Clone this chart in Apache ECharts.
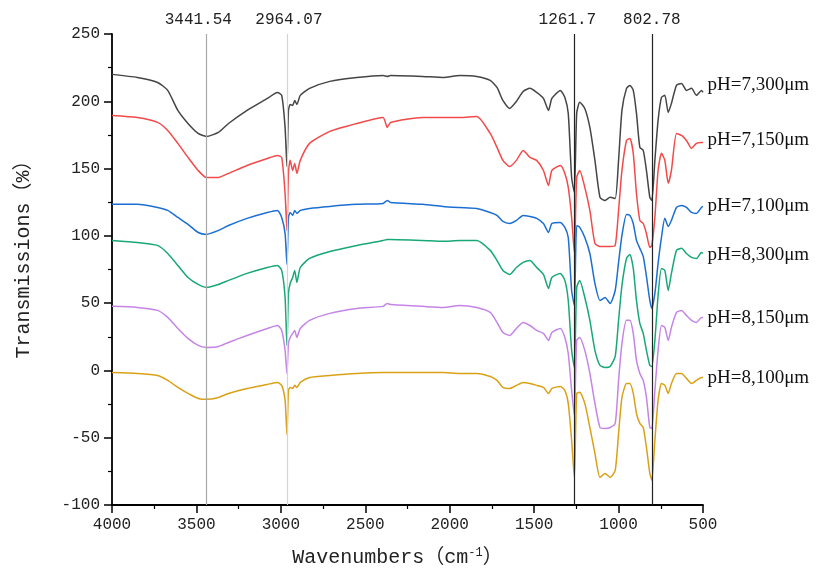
<!DOCTYPE html>
<html><head><meta charset="utf-8">
<script src="https://cdn.jsdelivr.net/npm/echarts@6/dist/echarts.min.js"></script>
<style>html,body{margin:0;padding:0;background:#fff}#c{width:816px;height:574px}</style>
</head><body><div id="c"></div>
<script>
const wavenumbers = [4000,3850,3730,3670,3610,3550,3490,3441,3370,3310,3200,3080,3020,2995,2975,2964,2955,2945,2930,2918,2905,2885,2830,2710,2550,2395,2370,2350,2160,2040,1940,1840,1760,1720,1685,1645,1605,1565,1525,1485,1445,1415,1395,1345,1318,1298,1278,1262,1248,1230,1200,1170,1140,1110,1080,1050,1020,1000,980,953,933,913,894,874,854,835,815,803,785,766,746,726,706,687,657,627,598,568,539,509,500];

const ph7_300 = [220.0,217.7,214.0,208.1,193.2,183.5,176.1,173.9,176.9,183.5,193.2,202.1,206.6,204.4,180.6,151.6,193.2,197.7,196.9,200.6,197.7,204.4,209.6,214.8,217.7,219.2,218.5,219.2,218.5,217.7,219.2,218.5,215.5,210.3,200.6,194.7,199.9,207.3,209.6,206.6,202.1,193.2,202.1,208.1,202.9,191.0,143.4,132.3,191.0,199.2,194.7,180.6,156.1,128.6,126.3,128.6,127.8,156.1,193.2,209.6,211.8,208.1,191.0,165.7,163.5,148.6,128.6,126.3,156.1,185.8,202.9,204.4,191.7,198.4,211.8,213.3,208.1,209.6,204.4,208.1,206.6];
const ph7_150 = [189.5,188.0,184.3,178.3,168.7,158.3,148.6,143.4,143.4,146.4,152.3,157.5,159.8,158.3,131.5,104.0,147.1,156.1,148.6,153.8,146.4,156.1,168.7,177.6,183.5,188.0,180.6,184.3,188.0,188.0,188.0,188.7,176.1,165.7,156.1,151.6,156.1,163.5,158.3,156.1,148.6,137.5,148.6,152.3,146.4,136.0,113.7,87.7,143.4,148.6,136.0,118.9,94.4,92.1,92.1,92.1,92.9,118.9,148.6,170.9,172.4,161.3,131.5,111.5,109.2,101.8,91.4,92.9,113.7,148.6,161.3,156.1,139.0,148.6,176.1,174.6,170.9,165.0,168.7,169.4,169.4];
const ph7_100 = [123.4,123.4,121.1,118.9,113.7,108.5,102.5,101.1,104.0,107.7,113.0,117.4,118.9,113.7,101.8,78.8,113.7,117.4,115.2,118.9,116.7,118.9,120.4,121.9,123.4,124.1,126.3,124.8,123.4,121.9,121.1,120.4,117.4,115.2,110.7,109.2,111.5,115.2,114.4,113.0,109.2,102.5,109.2,110.0,106.3,98.8,59.4,48.3,107.7,106.3,98.8,86.9,64.6,52.0,54.2,49.8,59.4,80.3,100.3,115.9,115.2,109.2,96.6,90.7,84.7,69.9,52.0,46.1,57.2,79.5,98.8,113.0,107.0,111.5,121.1,122.6,121.1,117.4,116.7,121.1,121.9];
const ph8_300 = [96.6,95.1,92.9,86.9,78.0,69.1,63.9,61.7,63.9,66.9,72.1,76.5,78.0,74.3,54.2,18.6,57.2,64.6,69.1,74.3,65.4,76.5,83.2,88.4,92.9,96.6,97.3,97.3,96.6,95.9,96.6,96.6,89.2,81.7,74.3,71.3,76.5,80.3,81.7,76.5,71.3,60.9,69.1,72.1,66.9,52.0,14.9,2.2,61.7,66.9,54.2,37.2,14.9,3.7,2.2,3.0,10.4,37.2,63.2,83.2,86.2,75.8,52.0,34.9,27.5,14.9,3.7,3.0,22.3,55.7,75.8,74.3,59.4,72.1,89.2,90.7,86.9,84.0,83.2,87.7,86.9];
const ph8_150 = [47.6,46.8,44.6,39.4,31.2,23.8,18.6,17.1,17.8,20.8,26.0,31.2,33.4,29.7,14.9,-2.2,20.1,24.5,27.5,29.7,24.5,31.2,37.2,42.4,46.1,47.6,49.8,49.0,47.6,46.8,48.3,46.8,43.1,35.7,28.2,26.0,31.2,35.7,33.4,29.7,27.5,22.3,28.2,31.2,24.5,12.6,-14.9,-33.4,22.3,24.5,14.9,-2.2,-24.5,-42.4,-43.1,-42.4,-39.4,-7.4,20.1,37.2,37.2,27.5,7.4,-2.2,-7.4,-20.1,-42.4,-43.1,-14.9,14.9,33.4,32.0,22.3,32.0,43.1,44.6,40.9,37.2,35.7,39.4,39.4];
const ph8_100 = [-1.5,-2.2,-3.7,-7.4,-12.6,-17.1,-20.8,-21.5,-20.1,-17.1,-13.4,-10.4,-8.9,-11.1,-22.3,-47.6,-14.9,-12.6,-13.4,-11.1,-12.6,-8.9,-5.2,-3.7,-2.2,-1.5,-1.5,-1.5,-1.5,-1.5,-2.2,-2.2,-4.5,-7.4,-12.6,-13.4,-11.1,-8.9,-9.7,-11.1,-12.6,-17.1,-13.4,-11.9,-14.9,-24.5,-52.0,-79.5,-17.1,-16.3,-24.5,-42.4,-61.7,-79.5,-76.5,-79.5,-74.3,-46.8,-20.1,-9.7,-9.7,-17.1,-32.0,-39.4,-42.4,-57.2,-76.5,-81.7,-52.0,-22.3,-9.7,-11.1,-17.1,-9.7,-2.2,-2.2,-5.9,-9.7,-7.4,-5.2,-5.2];

const seriesNames = ['pH=7,300μm','pH=7,150μm','pH=7,100μm','pH=8,300μm','pH=8,150μm','pH=8,100μm'];
const markerPositions = [3441.54, 2964.07, 1261.7, 802.78];
const markerLabels = ['3441.54', '2964.07', '1261.7', '802.78'];
const xTicks = {min: 500, max: 4000, step: 500};
const yTicks = {min: -100, max: 250, step: 50};

const allValues = [ph7_300, ph7_150, ph7_100, ph8_300, ph8_150, ph8_100];
const colors = ['#454545', '#f24a4a', '#1b6fd3', '#18a877', '#c585e6', '#dba116'];
const labelOffsets = [-7, -2, 0, 2, 1, 1];
const markerColors = ['#a8a8a8', '#d4d4d4', '#222', '#222'];
const markerLabelOffsets = [-8, 2, -7, 0];

const MONO = '"Liberation Mono", "Noto Sans CJK SC", monospace';
const SERIF = '"Liberation Serif", "DejaVu Serif", serif';

const chart = echarts.init(document.getElementById('c'), null, {renderer: 'canvas'});

const series = seriesNames.map((name, k) => {
  const vals = allValues[k];
  const last = vals.length - 1;
  return {
    type: 'line',
    name: name,
    data: wavenumbers.map((w, i) => [w, vals[i]]),
    symbol: 'none',
    smooth: 0.2,
    z: 3,
    lineStyle: {color: colors[k], width: 1.5},
    itemStyle: {color: colors[k]},
    markPoint: {
      silent: true,
      animation: false,
      symbol: 'circle',
      symbolSize: 1,
      itemStyle: {color: 'rgba(0,0,0,0)'},
      data: [{
        coord: [wavenumbers[last], vals[last]],
        label: {show: true, position: 'right', distance: 4, formatter: name, color: '#111', fontFamily: SERIF, fontSize: 19, offset: [0, labelOffsets[k]]}
      }]
    }
  };
});

series.push({
  type: 'line',
  data: [],
  z: 2,
  markLine: {
    silent: true,
    symbol: 'none',
    animation: false,
    data: markerPositions.map((p, i) => ({
      xAxis: p,
      lineStyle: {color: markerColors[i], width: 1.2, type: 'solid'},
      label: {show: true, position: 'end', formatter: markerLabels[i], color: '#222', fontFamily: MONO, fontSize: 16, distance: 6, offset: [markerLabelOffsets[i], 0]}
    }))
  }
});

chart.setOption({
  animation: false,
  backgroundColor: '#fff',
  grid: {left: 112, right: 113, top: 34, bottom: 69, containLabel: false},
  xAxis: {
    type: 'value', inverse: true, min: xTicks.min, max: xTicks.max, interval: xTicks.step,
    name: 'Wavenumbers（cm{sup|-1}）', nameLocation: 'middle', nameGap: 42,
    nameTextStyle: {fontFamily: MONO, fontSize: 20, color: '#222', padding: [0, 20, 0, 0], rich: {sup: {fontFamily: MONO, fontSize: 12, verticalAlign: 'top', padding: [0, 0, 10, 0], color: '#222'}}},
    axisLine: {show: true, onZero: false, lineStyle: {color: '#000', width: 1.8}},
    axisTick: {show: true, length: 8, lineStyle: {color: '#000', width: 1.5}},
    minorTick: {show: true, splitNumber: 2, length: 4, lineStyle: {color: '#000', width: 1.2}},
    axisLabel: {fontFamily: MONO, fontSize: 16, color: '#222', margin: 12, formatter: v => String(v)},
    splitLine: {show: false}
  },
  yAxis: {
    type: 'value', min: yTicks.min, max: yTicks.max, interval: yTicks.step,
    name: 'Transmissions（%）', nameLocation: 'middle', nameGap: 78,
    nameTextStyle: {fontFamily: MONO, fontSize: 20, color: '#222', padding: [0, 0, 0, 30]},
    axisLine: {show: true, onZero: false, lineStyle: {color: '#000', width: 1.8}},
    axisTick: {show: true, length: 8, lineStyle: {color: '#000', width: 1.5}},
    minorTick: {show: true, splitNumber: 2, length: 4, lineStyle: {color: '#000', width: 1.2}},
    axisLabel: {fontFamily: MONO, fontSize: 16, color: '#222', margin: 12, formatter: v => String(v)},
    splitLine: {show: false}
  },
  series: series
});
</script></body></html>
